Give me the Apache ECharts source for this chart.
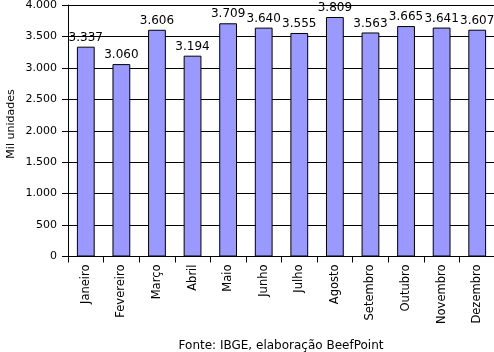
<html>
<head>
    <meta charset="UTF-8">
    <title>Mil unidades</title>
    <script src="https://cdn.jsdelivr.net/npm/echarts@6/dist/echarts.min.js"></script>
</head>
<body style="margin:0;background:#fff">
    <div id="container" style="width:494px;height:352px;"></div>
<script>
    var meses = ['Janeiro', 'Fevereiro', 'Março', 'Abril', 'Maio', 'Junho', 'Julho',
        'Agosto', 'Setembro', 'Outubro', 'Novembro', 'Dezembro'];
    var valores = [3337, 3060, 3606, 3194, 3709, 3640, 3555, 3809, 3563, 3665, 3641, 3607];
    var eixoMin = 0, eixoMax = 4000, eixoPasso = 500;

    // separador de milhar com ponto
    function fmt(v) {
        return String(v).replace(/\B(?=(\d{3})+(?!\d))/g, '.');
    }

    var fonte = 'DejaVu Sans';
    var mycharts = echarts.init(document.getElementById('container'));
    var option = {
        animation: false,
        grid: { left: 68, top: 5, width: 427, height: 251.5, outerBoundsMode: 'none', containLabel: false },
        xAxis: {
            type: 'category',
            data: meses,
            axisLine: { lineStyle: { color: '#000', width: 1 } },
            axisTick: { show: true, length: 6, lineStyle: { color: '#000' } },
            axisLabel: { rotate: 90, margin: 8, color: '#000', fontFamily: fonte, fontSize: 11.5 }
        },
        yAxis: {
            type: 'value',
            min: eixoMin,
            max: eixoMax,
            interval: eixoPasso,
            axisLine: { show: true, lineStyle: { color: '#000' } },
            axisTick: { show: true, length: 6, lineStyle: { color: '#000' } },
            splitLine: { lineStyle: { color: '#000', width: 1 } },
            axisLabel: { color: '#000', fontFamily: fonte, fontSize: 11, margin: 11, formatter: fmt }
        },
        series: [{
            type: 'bar',
            data: valores,
            barWidth: '50%',
            itemStyle: { color: '#9999FF', borderColor: '#000', borderWidth: 1 },
            label: {
                show: true,
                position: 'top',
                distance: 3,
                color: '#000',
                fontFamily: fonte,
                fontSize: 12,
                formatter: function (p) { return fmt(p.value); }
            }
        }],
        graphic: [{
            type: 'text',
            x: 11,
            y: 124,
            rotation: Math.PI / 2,
            style: {
                text: 'Mil unidades', fill: '#000', font: '11px "DejaVu Sans"',
                textAlign: 'center', textVerticalAlign: 'middle'
            }
        }, {
            type: 'text',
            x: 281,
            y: 346,
            style: {
                text: 'Fonte: IBGE, elaboração BeefPoint', fill: '#000', font: '12px "DejaVu Sans"',
                textAlign: 'center', textVerticalAlign: 'middle'
            }
        }]
    };
    mycharts.setOption(option);
</script>
</body>
</html>
